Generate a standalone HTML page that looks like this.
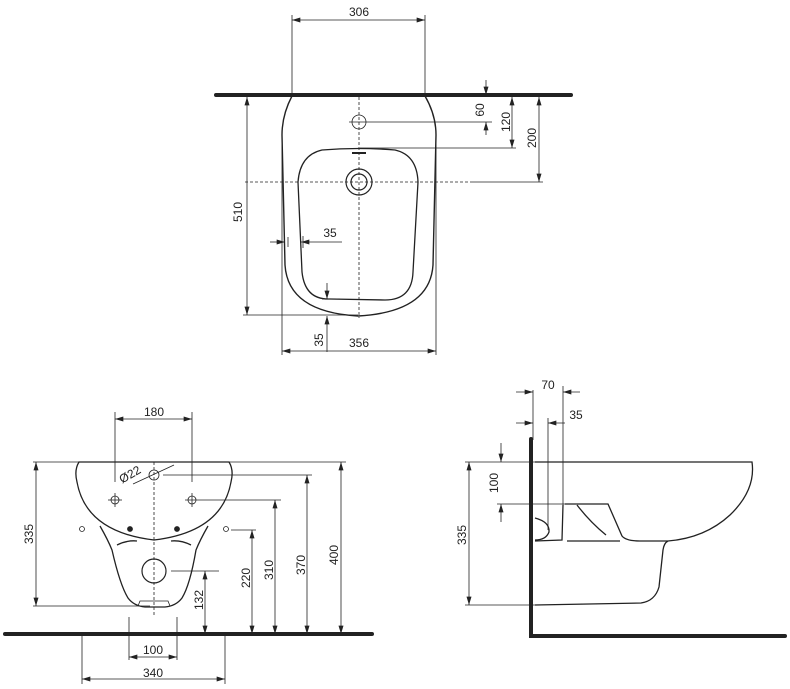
<!DOCTYPE html>
<html><head><style>body{margin:0;background:#fff}svg{display:block}text{font-family:"Liberation Sans",sans-serif;font-size:12px;fill:#222}</style></head>
<body>
<svg width="790" height="689" viewBox="0 0 790 689" xmlns="http://www.w3.org/2000/svg">
<defs>
<marker id="a" viewBox="0 0 10 6" refX="10" refY="3" markerWidth="10" markerHeight="5" markerUnits="userSpaceOnUse" orient="auto-start-reverse"><path d="M0,0L10,3L0,6z" fill="#222"/></marker>
</defs>
<g stroke="#222" fill="none" stroke-width="0.8">
<!-- TOP VIEW -->
<line x1="216" y1="95" x2="571" y2="95" stroke-width="4" stroke-linecap="round"/>
<line x1="292" y1="15" x2="292" y2="95"/><line x1="425" y1="15" x2="425" y2="95"/>
<line x1="292" y1="20" x2="425" y2="20" marker-start="url(#a)" marker-end="url(#a)"/>
<path d="M292,96 Q282,115 282,135 L285,265 Q288,312 358,316 Q430,312 433,265 L436,135 Q436,115 425,96" stroke-width="1.4"/>
<path d="M322,150 Q300,155 298,182 L302,272 Q305,300 330,299 L385,300 Q412,300 413,272 L418,182 Q417,155 395,150 Q358,147 322,150Z" stroke-width="1.3"/>
<line x1="352" y1="153" x2="366" y2="153" stroke-width="2"/>
<circle cx="359" cy="122" r="7"/>
<line x1="349" y1="122" x2="492" y2="122"/>
<circle cx="359" cy="182" r="13" stroke-width="1.2"/><circle cx="359" cy="182" r="8" stroke-width="1.2"/>
<line x1="359" y1="97" x2="359" y2="318" stroke-dasharray="3,2"/>
<line x1="245" y1="182" x2="470" y2="182" stroke-dasharray="3,2"/>
<line x1="470" y1="182" x2="543" y2="182"/>
<line x1="486" y1="80" x2="486" y2="95" marker-end="url(#a)"/>
<line x1="486" y1="135" x2="486" y2="122" marker-end="url(#a)"/>
<line x1="512" y1="97" x2="512" y2="148" marker-start="url(#a)" marker-end="url(#a)"/>
<line x1="360" y1="148" x2="516" y2="148"/>
<line x1="539" y1="97" x2="539" y2="182" marker-start="url(#a)" marker-end="url(#a)"/>
<line x1="247" y1="97" x2="247" y2="315" marker-start="url(#a)" marker-end="url(#a)"/>
<line x1="243" y1="315" x2="358" y2="315"/>
<line x1="270" y1="242" x2="285" y2="242" marker-end="url(#a)"/>
<line x1="342" y1="242" x2="301" y2="242" marker-end="url(#a)"/>
<line x1="288" y1="237" x2="288" y2="247"/><line x1="303" y1="236" x2="303" y2="248"/>
<line x1="327" y1="283" x2="327" y2="299" marker-end="url(#a)"/>
<line x1="327" y1="352" x2="327" y2="316" marker-end="url(#a)"/>
<line x1="322" y1="299" x2="340" y2="299"/>
<line x1="282" y1="135" x2="282" y2="355"/><line x1="436" y1="135" x2="436" y2="355"/>
<line x1="282" y1="351" x2="436" y2="351" marker-start="url(#a)" marker-end="url(#a)"/>

<!-- FRONT VIEW -->
<line x1="5" y1="634" x2="372" y2="634" stroke-width="4" stroke-linecap="round"/>
<path d="M79,462 L229,462 Q234,470 231,482 Q222,532 154,540 Q86,532 77,482 Q74,470 79,462Z" stroke-width="1.3"/>
<path d="M100,526 Q108,540 112,550 Q120,585 128,598 Q134,606 145,607 L165,607 Q176,606 182,598 Q190,585 196,550 Q200,540 208,526" stroke-width="1.3"/>
<path d="M117,545 Q127,540 137,541 M171,541 Q181,540 191,545" stroke-width="1.3"/>
<path d="M138,606 L140,601 L168,601 L170,606" />
<line x1="33" y1="462" x2="346" y2="462"/>
<line x1="33" y1="606" x2="150" y2="606"/>
<line x1="36" y1="462" x2="36" y2="606" marker-start="url(#a)" marker-end="url(#a)"/>
<circle cx="115" cy="500" r="4"/><line x1="108" y1="500" x2="122" y2="500"/><line x1="115" y1="493" x2="115" y2="507"/>
<circle cx="192" cy="500" r="4"/><line x1="185" y1="500" x2="281" y2="500"/><line x1="192" y1="493" x2="192" y2="507"/>
<circle cx="154" cy="475" r="5"/><line x1="163" y1="475" x2="312" y2="475"/>
<line x1="133" y1="484" x2="174" y2="465"/>
<circle cx="130" cy="529" r="2.5" fill="#222"/><circle cx="177" cy="529" r="2.5" fill="#222"/>
<circle cx="82" cy="529" r="2.5"/><circle cx="226" cy="529" r="2.5"/>
<line x1="231" y1="530" x2="256" y2="530"/>
<circle cx="154" cy="571" r="12" stroke-width="1.2"/>
<line x1="171" y1="571" x2="219" y2="571"/>
<line x1="154" y1="462" x2="154" y2="616" stroke-dasharray="3,2"/>
<line x1="205" y1="571" x2="205" y2="634" marker-start="url(#a)" marker-end="url(#a)"/>
<line x1="252" y1="530" x2="252" y2="634" marker-start="url(#a)" marker-end="url(#a)"/>
<line x1="275" y1="500" x2="275" y2="634" marker-start="url(#a)" marker-end="url(#a)"/>
<line x1="307" y1="475" x2="307" y2="634" marker-start="url(#a)" marker-end="url(#a)"/>
<line x1="341" y1="462" x2="341" y2="634" marker-start="url(#a)" marker-end="url(#a)"/>
<line x1="115" y1="412" x2="115" y2="482"/><line x1="192" y1="412" x2="192" y2="482"/>
<line x1="115" y1="419" x2="192" y2="419" marker-start="url(#a)" marker-end="url(#a)"/>
<line x1="129" y1="617" x2="129" y2="660"/><line x1="177" y1="617" x2="177" y2="660"/>
<line x1="129" y1="657" x2="177" y2="657" marker-start="url(#a)" marker-end="url(#a)"/>
<line x1="82" y1="634" x2="82" y2="684"/><line x1="225" y1="634" x2="225" y2="684"/>
<line x1="82" y1="679" x2="225" y2="679" marker-start="url(#a)" marker-end="url(#a)"/>

<!-- SIDE VIEW -->
<path d="M531,439 L531,636 L785,636" stroke-width="4" stroke-linecap="round"/>
<path d="M535,462 L752,462 Q756,490 730,515 Q705,538 668,541" stroke-width="1.3"/>
<path d="M565,504 L608,504 L622,536 Q626,541 640,541 L668,541" stroke-width="1.3"/>
<path d="M563,505 L562,540 L535,541" stroke-width="1.3"/>
<path d="M567,541 L620,541" stroke-width="1.3"/>
<path d="M577,505 Q590,522 606,535" stroke-width="1.3"/>
<path d="M535,518 Q550,522 549,532 Q546,540 535,540" stroke-width="1.3"/>
<path d="M668,541 Q664,543 663,550 L659,587 Q655,601 641,603 L535,605" stroke-width="1.3"/>
<line x1="533" y1="390" x2="533" y2="440"/><line x1="563" y1="386" x2="563" y2="505"/>
<line x1="516" y1="392" x2="533" y2="392" marker-end="url(#a)"/>
<line x1="580" y1="392" x2="563" y2="392" marker-end="url(#a)"/>
<line x1="548" y1="418" x2="548" y2="530"/>
<line x1="516" y1="423" x2="533" y2="423" marker-end="url(#a)"/>
<line x1="565" y1="423" x2="548" y2="423" marker-end="url(#a)"/>
<line x1="501" y1="443" x2="501" y2="462" marker-end="url(#a)"/>
<line x1="501" y1="522" x2="501" y2="504" marker-end="url(#a)"/>
<line x1="497" y1="504" x2="565" y2="504"/>
<line x1="465" y1="462" x2="535" y2="462"/><line x1="465" y1="605" x2="535" y2="605"/>
<line x1="469" y1="462" x2="469" y2="605" marker-start="url(#a)" marker-end="url(#a)"/>
</g>
<g text-anchor="middle">
<text x="359" y="16">306</text>
<text x="330" y="237">35</text>
<text x="359" y="347">356</text>
<text transform="translate(323,340) rotate(-90)">35</text>
<text transform="translate(242,212) rotate(-90)">510</text>
<text transform="translate(484,110) rotate(-90)">60</text>
<text transform="translate(510,122) rotate(-90)">120</text>
<text transform="translate(536,138) rotate(-90)">200</text>
<text x="154" y="416">180</text>
<text x="153" y="654">100</text>
<text x="153" y="677">340</text>
<text transform="translate(132,478) rotate(-30)">Ø22</text>
<text transform="translate(33,534) rotate(-90)">335</text>
<text transform="translate(203,600) rotate(-90)">132</text>
<text transform="translate(250,578) rotate(-90)">220</text>
<text transform="translate(273,570) rotate(-90)">310</text>
<text transform="translate(305,565) rotate(-90)">370</text>
<text transform="translate(338,555) rotate(-90)">400</text>
<text x="548" y="389">70</text>
<text x="576" y="419">35</text>
<text transform="translate(498,483) rotate(-90)">100</text>
<text transform="translate(466,535) rotate(-90)">335</text>
</g>
</svg>
</body></html>
